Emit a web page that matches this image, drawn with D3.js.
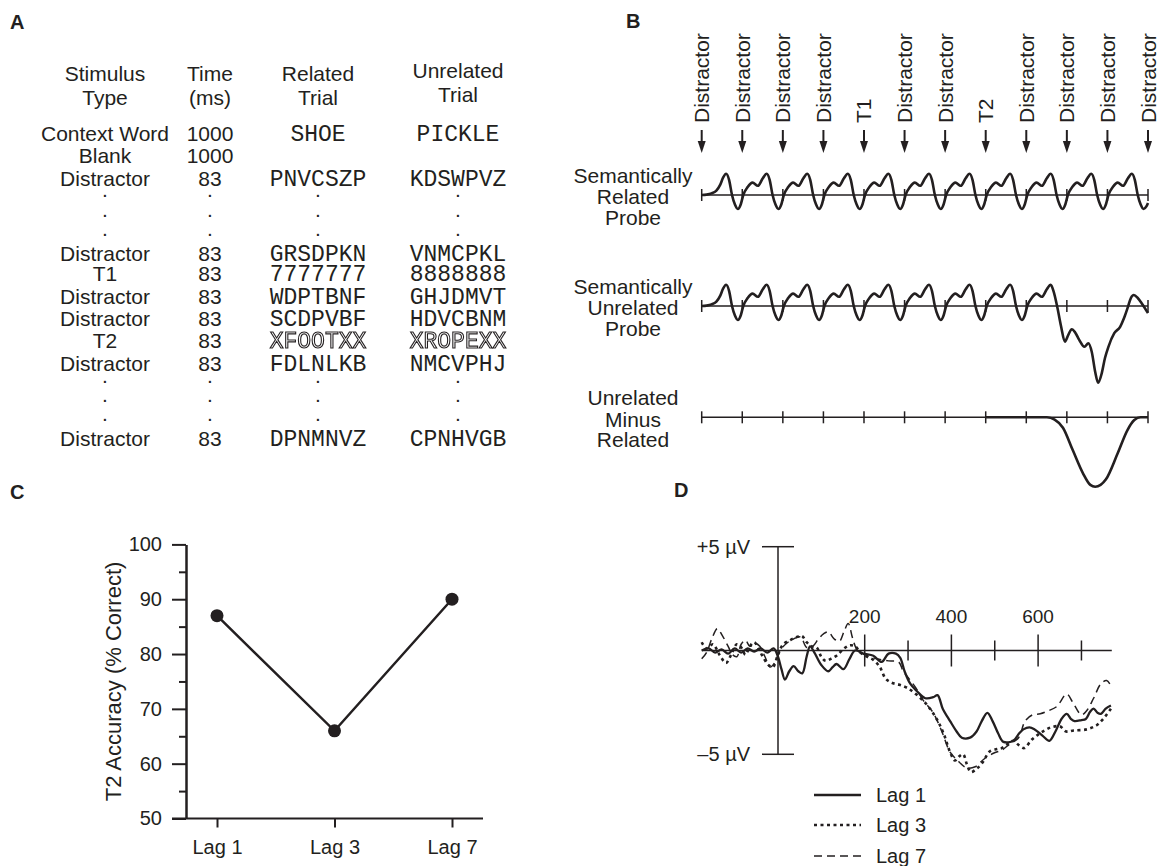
<!DOCTYPE html>
<html>
<head>
<meta charset="utf-8">
<title>Attentional blink and N400</title>
<script src="https://cdn.jsdelivr.net/npm/d3@7/dist/d3.min.js"></script>
<style>
  body { margin: 0; background: #fff; }
  svg text { font-family: "Liberation Sans", Arial, Helvetica, sans-serif; fill: #231f20; }
  svg .mono { font-family: "Liberation Mono", "Courier New", monospace; }
  svg .panel { font-weight: bold; font-size: 20px; }
</style>
</head>
<body>
<svg id="fig" width="1159" height="866">
  <defs><filter id="flat"><feOffset dx="0" dy="0"/></filter></defs>
</svg>
<script>

// ---- data --------------------------------------------------------------

// A: trial structure table
var tableHead = [["Stimulus", "Type"], ["Time", "(ms)"], ["Related", "Trial"], ["Unrelated", "Trial"]];
var stimType = ["Context Word", "Blank", "Distractor", ".", ".", ".", "Distractor", "T1", "Distractor",
  "Distractor", "T2", "Distractor", ".", ".", ".", "Distractor"];
var stimTime = ["1000", "1000", "83", ".", ".", ".", "83", "83", "83", "83", "83", "83", ".", ".", ".", "83"];
var relatedTrial = ["SHOE", "", "PNVCSZP", ".", ".", ".", "GRSDPKN", "7777777", "WDPTBNF", "SCDPVBF",
  "XFOOTXX", "FDLNLKB", ".", ".", ".", "DPNMNVZ"];
var unrelatedTrial = ["PICKLE", "", "KDSWPVZ", ".", ".", ".", "VNMCPKL", "8888888", "GHJDMVT", "HDVCBNM",
  "XROPEXX", "NMCVPHJ", ".", ".", ".", "CPNHVGB"];

// B: stimulus stream (ms) and schematic waveforms [ms, amplitude]
var streamLabels = ["Distractor", "Distractor", "Distractor", "Distractor", "T1", "Distractor",
  "Distractor", "T2", "Distractor", "Distractor", "Distractor", "Distractor"];
var streamOnsets = [0, 83, 166, 249, 332, 415, 498, 581, 664, 747, 830, 913];
var rowLabels = [["Semantically", "Related", "Probe"], ["Semantically", "Unrelated", "Probe"],
  ["Unrelated", "Minus", "Related"]];

var relatedWave = [
  [0,0],[10,0.1],[20,0.4],[30,1.1],[38,2.6],[44,4.4],[50,5.3],[56,3.8],[62,0],[68,-2.4],[74,-3.5],[80,-2.3],
  [85,0],[94,2.0],[104,3.1],[115,2.3],[125,4.2],[133,5.3],[139,3.8],[145,0],[151,-2.4],[157,-3.5],[163,-2.3],
  [168,0],[177,2.0],[187,3.1],[198,2.3],[208,4.2],[216,5.3],[222,3.8],[228,0],[234,-2.4],[240,-3.5],[246,-2.3],
  [251,0],[260,2.0],[270,3.1],[281,2.3],[291,4.2],[299,5.3],[305,3.8],[311,0],[317,-2.4],[323,-3.5],[329,-2.3],
  [334,0],[343,2.0],[353,3.1],[364,2.3],[374,4.2],[382,5.3],[388,3.8],[394,0],[400,-2.4],[406,-3.5],[412,-2.3],
  [417,0],[426,2.0],[436,3.1],[447,2.3],[457,4.2],[465,5.3],[471,3.8],[477,0],[483,-2.4],[489,-3.5],[495,-2.3],
  [500,0],[509,2.0],[519,3.1],[530,2.3],[540,4.2],[548,5.3],[554,3.8],[560,0],[566,-2.4],[572,-3.5],[578,-2.3],
  [583,0],[592,2.0],[602,3.1],[613,2.3],[623,4.2],[631,5.3],[637,3.8],[643,0],[649,-2.4],[655,-3.5],[661,-2.3],
  [666,0],[675,2.0],[685,3.1],[696,2.3],[706,4.2],[714,5.3],[720,3.8],[726,0],[732,-2.4],[738,-3.5],[744,-2.3],
  [749,0],[758,2.0],[768,3.1],[779,2.3],[789,4.2],[797,5.3],[803,3.8],[809,0],[815,-2.4],[821,-3.5],[827,-2.3],
  [832,0],[841,2.0],[851,3.1],[862,2.3],[872,4.2],[880,5.3],[886,3.8],[892,0],[898,-2.4],[904,-3.5],[910,-2.8],[913,-2.0]
];
var unrelatedWave = [
  [0,0],[10,0.1],[20,0.4],[30,1.1],[38,2.6],[44,4.4],[50,5.3],[56,3.8],[62,0],[68,-2.4],[74,-3.5],[80,-2.3],
  [85,0],[94,2.0],[104,3.1],[115,2.3],[125,4.2],[133,5.3],[139,3.8],[145,0],[151,-2.4],[157,-3.5],[163,-2.3],
  [168,0],[177,2.0],[187,3.1],[198,2.3],[208,4.2],[216,5.3],[222,3.8],[228,0],[234,-2.4],[240,-3.5],[246,-2.3],
  [251,0],[260,2.0],[270,3.1],[281,2.3],[291,4.2],[299,5.3],[305,3.8],[311,0],[317,-2.4],[323,-3.5],[329,-2.3],
  [334,0],[343,2.0],[353,3.1],[364,2.3],[374,4.2],[382,5.3],[388,3.8],[394,0],[400,-2.4],[406,-3.5],[412,-2.3],
  [417,0],[426,2.0],[436,3.1],[447,2.3],[457,4.2],[465,5.3],[471,3.8],[477,0],[483,-2.4],[489,-3.5],[495,-2.3],
  [500,0],[509,2.0],[519,3.1],[530,2.3],[540,4.2],[548,5.3],[554,3.8],[560,0],[566,-2.4],[572,-3.5],[578,-2.3],
  [583,0],[592,2.0],[602,3.1],[613,2.3],[623,4.2],[631,5.3],[637,3.8],[643,0],[649,-2.4],[655,-3.5],[661,-2.3],
  [666,0],[675,2.0],[685,3.1],[696,2.3],[706,4.2],[714,5.3],[720,3.6],[727,0],[735,-5.0],[743,-8.9],[750,-7.2],
  [757,-5.8],[764,-6.6],[772,-8.4],[783,-10.2],[791,-9.3],[798,-11.5],[805,-16.5],[811,-19.2],[818,-17.0],
  [825,-13.0],[832,-10.2],[844,-6.8],[856,-5.2],[864,-3.0],[872,-0.2],[878,2.0],[884,2.75],[892,2.0],[900,0.7],[913,-1.8]
];
var differenceWave = [[581,0],[706,0],[722,-0.6],[739,-2.6],[759,-8.2],[780,-14],[795,-16.9],[805,-17.35],
  [816,-16.9],[827,-15.5],[851,-9],[871,-3.2],[885,-0.7],[898,0],[913,0]];

// C: T2 accuracy
var lags = ["Lag 1", "Lag 3", "Lag 7"];
var accuracy = [87, 66, 90];
var accTicks = [50, 60, 70, 80, 90, 100];
var accMinor = [55, 65, 75, 85, 95];

// D: ERP difference waves [ms, µV]
var lag1Erp = [[-176,0],[-160,0.1],[-145,-0.1],[-130,0.05],[-115,-0.15],[-100,0.1],[-85,-0.1],[-70,0.1],
  [-55,-0.05],[-40,0.1],[-25,-0.1],[-10,0.1],[0,-0.3],[8,-0.9],[16,-1.4],[26,-1.0],[36,-0.75],[47,-1.0],
  [56,-1.1],[66,-0.3],[74,0.2],[84,-0.1],[100,-0.7],[116,-1.0],[126,-0.8],[135,-0.65],[151,-0.9],[165,-0.4],
  [178,0],[197,-0.15],[220,-0.25],[239,-0.55],[255,-0.15],[272,-0.15],[282,-0.35],[292,-1.0],[305,-1.6],
  [320,-1.95],[340,-2.3],[358,-2.25],[368,-2.15],[380,-2.8],[397,-3.4],[412,-3.9],[424,-4.2],[443,-4.2],
  [458,-3.9],[470,-3.4],[483,-3.0],[495,-3.4],[508,-4.0],[520,-4.4],[543,-4.35],[556,-4.0],[566,-3.8],
  [580,-3.7],[592,-3.8],[610,-4.1],[626,-4.35],[640,-3.9],[654,-3.3],[666,-3.05],[676,-3.3],[684,-3.4],
  [700,-3.35],[710,-3.3],[720,-2.95],[728,-2.8],[737,-3.0],[745,-3.05],[756,-2.8],[768,-2.65]];
var lag3Erp = [[-176,0.4],[-165,0.1],[-150,0.3],[-135,-0.2],[-120,-0.6],[-108,-0.2],[-95,0.3],[-85,0.15],
  [-75,-0.2],[-65,0.2],[-55,0.4],[-45,0.1],[-35,-0.3],[-22,-0.7],[-12,-0.8],[0,-0.2],[12,0.3],[28,0.5],
  [43,0.65],[55,0.7],[66,0.4],[78,0.2],[89,0.15],[100,-0.3],[110,-0.5],[122,-0.4],[135,-0.25],[150,0.05],
  [165,0.25],[178,0.2],[190,-0.1],[205,-0.3],[220,-0.45],[235,-0.8],[248,-1.35],[262,-1.55],[280,-1.65],
  [298,-1.8],[318,-2.1],[343,-2.6],[366,-3.3],[382,-4.0],[397,-4.9],[408,-5.3],[418,-5.1],[427,-5.0],
  [436,-5.5],[445,-5.85],[458,-5.7],[470,-5.45],[489,-4.85],[505,-4.75],[516,-4.7],[530,-4.5],[543,-4.35],
  [555,-4.55],[568,-4.7],[585,-4.3],[600,-4.05],[615,-3.85],[630,-3.7],[650,-3.65],[665,-3.9],[682,-3.85],
  [712,-3.8],[735,-3.6],[750,-3.3],[768,-2.8]];
var lag7Erp = [[-176,-0.4],[-165,-0.1],[-152,0.6],[-140,1.05],[-128,0.7],[-115,0.2],[-105,-0.2],[-95,-0.3],
  [-85,0.3],[-75,0.5],[-65,0.2],[-53,0.35],[-42,0.2],[-30,-0.3],[-18,-0.8],[-8,-0.6],[5,0.0],[20,0.35],
  [35,0.55],[52,0.65],[66,0.15],[80,0.2],[93,0.55],[105,0.8],[116,0.9],[130,0.55],[142,0.45],[152,0.9],
  [162,1.3],[172,0.6],[182,0.05],[200,-0.2],[228,-0.4],[255,-0.5],[278,-0.55],[289,-1.0],[300,-1.3],
  [318,-1.8],[335,-2.4],[358,-3.0],[377,-3.85],[397,-4.9],[412,-5.25],[435,-5.65],[455,-5.6],[474,-5.25],
  [497,-4.95],[516,-4.8],[535,-4.5],[555,-4.2],[570,-3.4],[587,-3.1],[605,-3.05],[624,-2.9],[643,-2.7],
  [666,-2.1],[680,-2.5],[700,-3.1],[712,-2.9],[728,-2.3],[745,-1.6],[758,-1.45],[768,-1.7]];
var erpSeries = ["Lag 1", "Lag 3", "Lag 7"];
var erpTicks = [200, 300, 400, 500, 600, 700];
var erpLabels = [200, 400, 600];

// ---- drawing -----------------------------------------------------------

var ink = "#231f20";
var svg = d3.select("#fig");

function panelLabel(x, y, t) {
  svg.append("text").attr("class", "panel").attr("x", x).attr("y", y).text(t);
}

// ---- A
panelLabel(10, 29, "A");

var colX = [105, 210, 318, 458];
var headBase = [[80.5, 105], [80.5, 105], [80.5, 105], [78, 102]];
var rowBase = [140.5, 162.5, 185.5, 197, 217, 236, 260.5, 280.5, 303.5, 325.5, 347.5, 370.5, 383, 402, 421, 445.5];

var gA = svg.append("g").attr("text-anchor", "middle");
tableHead.forEach(function(h, c) {
  h.forEach(function(t, k) {
    gA.append("text").attr("x", colX[c]).attr("y", headBase[c][k]).attr("font-size", 21).text(t);
  });
});

[stimType, stimTime].forEach(function(col, c) {
  gA.append("g").selectAll("text").data(col).join("text")
    .attr("x", colX[c]).attr("y", function(d, i) { return rowBase[i]; })
    .attr("font-size", 21)
    .text(function(d) { return d; });
});

[relatedTrial, unrelatedTrial].forEach(function(col, c) {
  gA.append("g").selectAll("text").data(col).join("text")
    .attr("class", function(d, i) { return stimType[i] === "." ? null : "mono"; })
    .attr("x", colX[c + 2]).attr("y", function(d, i) { return rowBase[i]; })
    .attr("font-size", function(d, i) { return stimType[i] === "." ? 21 : 23; })
    .text(function(d) { return d; });
});
// T2 words are printed as outlined letters
gA.selectAll(".mono").filter(function(d, i) { return /^X.*XX$/.test(d); })
  .style("fill", "#fff").style("stroke", ink).style("stroke-width", 1.1)
  .attr("filter", "url(#flat)");

// ---- B
panelLabel(626, 28, "B");

var xB = d3.scaleLinear().domain([0, 913]).range([701.7, 1148]);
var yB = d3.scaleLinear().domain([-10, 10]).range([40, -40]);
var rowY = [195, 306, 417.3];
var labelBase = [[182.5, 203.5, 224.5], [294, 315, 336], [404.5, 426.5, 447]];

var gB = svg.append("g");

gB.append("g").selectAll("text").data(streamLabels).join("text")
  .attr("transform", function(d, i) { return "translate(" + (xB(streamOnsets[i]) + 7.5) + ",123) rotate(-90)"; })
  .attr("font-size", 21)
  .text(function(d) { return d; });

gB.append("g").selectAll("line").data(streamOnsets).join("line")
  .attr("x1", function(d) { return xB(d); }).attr("x2", function(d) { return xB(d); })
  .attr("y1", 130).attr("y2", 144)
  .attr("stroke", ink).attr("stroke-width", 2);
gB.append("g").selectAll("path").data(streamOnsets).join("path")
  .attr("d", function(d) { var x = xB(d); return "M" + (x - 4) + ",141L" + (x + 4) + ",141L" + x + ",153Z"; })
  .attr("fill", ink);

var waveLine = d3.line()
  .x(function(d) { return xB(d[0]); })
  .y(function(d) { return yB(d[1]); })
  .curve(d3.curveMonotoneX);

[relatedWave, unrelatedWave, differenceWave].forEach(function(w, r) {
  var g = gB.append("g").attr("transform", "translate(0," + rowY[r] + ")");
  g.append("line").attr("x1", xB(0)).attr("x2", xB(913)).attr("y1", 0).attr("y2", 0)
    .attr("stroke", ink).attr("stroke-width", 1.5);
  g.selectAll(".tk").data(streamOnsets).join("line").attr("class", "tk")
    .attr("x1", function(d) { return xB(d); }).attr("x2", function(d) { return xB(d); })
    .attr("y1", -6).attr("y2", 6)
    .attr("stroke", ink).attr("stroke-width", 1.5);
  g.append("path").datum(w).attr("d", waveLine)
    .attr("fill", "none").attr("stroke", ink).attr("stroke-width", 2.6);
  g.append("g").selectAll("text").data(rowLabels[r]).join("text")
    .attr("x", 633).attr("y", function(d, k) { return labelBase[r][k] - rowY[r]; })
    .attr("text-anchor", "middle").attr("font-size", 21)
    .text(function(d) { return d; });
});

// ---- C
panelLabel(10, 499, "C");

var yC = d3.scaleLinear().domain([50, 100]).range([818.5, 544.4]);
var xC = d3.scalePoint().domain(lags).range([217, 452]);
var gC = svg.append("g").style("color", ink);

gC.append("g").attr("transform", "translate(186,0)")
  .call(d3.axisLeft(yC).tickValues(accTicks).tickSize(14).tickSizeOuter(0).tickPadding(10))
  .attr("font-family", null).attr("font-size", 20);
gC.append("g").attr("transform", "translate(186,0)")
  .call(d3.axisLeft(yC).tickValues(accMinor).tickSize(7).tickSizeOuter(0).tickFormat(""));
gC.append("line").attr("x1", 172).attr("x2", 483).attr("y1", yC(50)).attr("y2", yC(50))
  .attr("stroke", ink).attr("stroke-width", 2);
gC.append("g").attr("transform", "translate(0," + yC(50) + ")")
  .call(d3.axisBottom(xC).tickSize(9).tickSizeOuter(0).tickPadding(12))
  .attr("font-family", null).attr("font-size", 20)
  .call(function(g) { g.select(".domain").remove(); });
gC.selectAll("line, path").attr("stroke-width", 2);

gC.append("text")
  .attr("transform", "translate(121," + yC(75) + ") rotate(-90)")
  .attr("text-anchor", "middle").attr("font-size", 22)
  .text("T2 Accuracy (% Correct)");

gC.append("path").datum(accuracy)
  .attr("d", d3.line().x(function(d, i) { return xC(lags[i]); }).y(function(d) { return yC(d); }))
  .attr("fill", "none").attr("stroke", ink).attr("stroke-width", 2.5);
gC.selectAll("circle").data(accuracy).join("circle")
  .attr("cx", function(d, i) { return xC(lags[i]); }).attr("cy", function(d) { return yC(d); })
  .attr("r", 6.5).attr("fill", ink);

// ---- D
panelLabel(674, 497, "D");

var xD = d3.scaleLinear().domain([0, 200]).range([778, 864.7]);
var yD = d3.scaleLinear().domain([-5, 5]).range([754.3, 546.7]);
var gD = svg.append("g");

gD.append("line").attr("x1", xD(-176)).attr("x2", xD(770)).attr("y1", yD(0)).attr("y2", yD(0))
  .attr("stroke", ink).attr("stroke-width", 1.5);
gD.append("line").attr("x1", xD(0)).attr("x2", xD(0)).attr("y1", yD(5)).attr("y2", yD(-5))
  .attr("stroke", ink).attr("stroke-width", 1.5);
gD.selectAll(".cap").data([5, -5]).join("line").attr("class", "cap")
  .attr("x1", xD(0) - 16).attr("x2", xD(0) + 16)
  .attr("y1", function(d) { return yD(d); }).attr("y2", function(d) { return yD(d); })
  .attr("stroke", ink).attr("stroke-width", 1.5);
gD.selectAll(".capl").data([5, -5]).join("text").attr("class", "capl")
  .attr("x", xD(0) - 28).attr("y", function(d) { return yD(d) + 7; })
  .attr("text-anchor", "end").attr("font-size", 20)
  .text(function(d) { return (d > 0 ? "+" : "\u2013") + Math.abs(d) + " \u00b5V"; });
gD.selectAll(".tk").data(erpTicks).join("line").attr("class", "tk")
  .attr("x1", function(d) { return xD(d); }).attr("x2", function(d) { return xD(d); })
  .attr("y1", function(d) { return yD(0) - (d % 200 ? 10 : 16); })
  .attr("y2", function(d) { return yD(0) + (d % 200 ? 10 : 16); })
  .attr("stroke", ink).attr("stroke-width", 1.5);
gD.selectAll(".tkl").data(erpLabels).join("text").attr("class", "tkl")
  .attr("x", function(d) { return xD(d); }).attr("y", yD(0) - 28)
  .attr("text-anchor", "middle").attr("font-size", 19)
  .text(function(d) { return d; });

var erpLine = d3.line()
  .x(function(d) { return xD(d[0]); })
  .y(function(d) { return yD(d[1]); })
  .curve(d3.curveCatmullRom);
var erpStyle = [
  { w: 2.3, dash: null },
  { w: 2.6, dash: "3,3.5" },
  { w: 1.5, dash: "8,5" }
];
[lag1Erp, lag3Erp, lag7Erp].forEach(function(s, i) {
  gD.append("path").datum(s).attr("d", erpLine)
    .attr("fill", "none").attr("stroke", ink)
    .attr("stroke-width", erpStyle[i].w).attr("stroke-dasharray", erpStyle[i].dash);
});

var legY = [795, 825, 856];
var leg = gD.selectAll(".leg").data(erpSeries).join("g").attr("class", "leg")
  .attr("transform", function(d, i) { return "translate(0," + legY[i] + ")"; });
leg.append("line").attr("x1", 814).attr("x2", 861).attr("y1", 0).attr("y2", 0)
  .attr("stroke", ink)
  .attr("stroke-width", function(d, i) { return erpStyle[i].w; })
  .attr("stroke-dasharray", function(d, i) { return erpStyle[i].dash; });
leg.append("text").attr("x", 876).attr("y", 7).attr("font-size", 20)
  .text(function(d) { return d; });

</script>
</body>
</html>
